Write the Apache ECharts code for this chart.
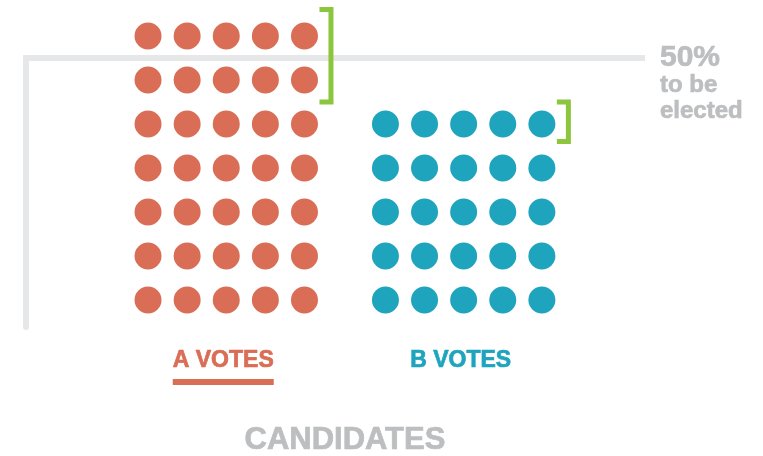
<!DOCTYPE html>
<html><head><meta charset="utf-8">
<script src="https://cdn.jsdelivr.net/npm/echarts@6/dist/echarts.min.js"></script>
<style>html,body{margin:0;padding:0;background:#fff}#c{width:763px;height:456px}</style>
</head><body><div id="c"></div>
<script>
// ---- data ----
const categories = ['A VOTES', 'B VOTES'];
const votes = [35, 25];
const dotsPerRow = 5;
// bracket extents in row units [bottom, top]
const bracketRows = [[4.5, 6.6], [3.6, 4.5]];
const thresholdShare = 0.5;
const thresholdText = ['50%', 'to be', 'elected'];
const axisTitle = 'CANDIDATES';

// ---- styling / layout ----
const colors = ['#d96d56', '#1ea5bd'];
const GREEN = '#8cc63f';
const GREY_LINE = '#e6e7e8';
const GREY_TEXT = '#bcbec0';
const FONT = '"Liberation Sans", Arial, sans-serif';
const GROUP_OFFSET = 6.07;

const total = votes.reduce((a, b) => a + b, 0);
const thresholdRow = total * thresholdShare / dotsPerRow - 0.5;

const chart = echarts.init(document.getElementById('c'), null, {renderer: 'canvas'});

const series = categories.map((name, g) => {
  const data = [];
  for (let i = 0; i < votes[g]; i++) {
    data.push([g * GROUP_OFFSET + (i % dotsPerRow), Math.floor(i / dotsPerRow)]);
  }
  const s = {
    type: 'scatter', name, data, symbol: 'circle', symbolSize: 27,
    itemStyle: {color: colors[g], opacity: 1}, clip: false, silent: true, z: 3,
    emphasis: {disabled: true}
  };
  if (g === 0) {
    s.markLine = {
      silent: true, symbol: ['none', 'none'], label: {show: false},
      lineStyle: {color: GREY_LINE, width: 6, type: 'solid', cap: 'square', opacity: 1},
      emphasis: {disabled: true},
      data: [{yAxis: thresholdRow}], animation: false, z: 1
    };
  }
  return s;
});

series.push({
  type: 'custom', clip: false, silent: true, z: 4,
  data: bracketRows.map((r, g) => [g, r[0], r[1]]),
  encode: {x: 0, y: [1, 2]},
  renderItem(params, api) {
    const g = api.value(0);
    const x = api.coord([g * GROUP_OFFSET + dotsPerRow - 1, 0])[0];
    const bot = api.coord([0, api.value(1)])[1];
    const top = api.coord([0, api.value(2)])[1];
    return {
      type: 'polyline',
      shape: {points: [[x + 15, top], [x + 26.5, top], [x + 26.5, bot], [x + 15, bot]]},
      style: {stroke: GREEN, lineWidth: 5, fill: null, lineJoin: 'miter'}
    };
  }
});

const option = {
  animation: false,
  backgroundColor: '#fff',
  grid: {left: 26, top: 58, right: 121, bottom: 129},
  xAxis: {
    type: 'value', min: -3.12, max: 12.63,
    axisLine: {show: false}, axisTick: {show: false}, axisLabel: {show: false}, splitLine: {show: false}
  },
  yAxis: {
    type: 'value', min: -0.614, max: thresholdRow,
    axisLine: {show: true, onZero: false, lineStyle: {color: GREY_LINE, width: 6}},
    axisTick: {show: false}, axisLabel: {show: false}, splitLine: {show: false}
  },
  series
};
chart.setOption(option);

// ---- text annotations placed from the axes ----
const px = (x, y) => chart.convertToPixel({gridIndex: 0}, [x, y]);
const graphics = [];
const bottomY = px(0, 0)[1];
const winner = votes.indexOf(Math.max(...votes));
const heavy = (c) => ({stroke: c, lineWidth: 0.7});
categories.forEach((name, g) => {
  const cx = px(g * GROUP_OFFSET + (dotsPerRow - 1) / 2, 0)[0] - 3;
  graphics.push({
    type: 'text', x: cx, y: bottomY + 61,
    style: Object.assign({text: name, fill: colors[g], font: 'bold 23px ' + FONT, textAlign: 'center', textVerticalAlign: 'middle'}, heavy(colors[g]))
  });
  if (g === winner) {
    graphics.push({
      type: 'rect', shape: {x: cx - 50.5, y: bottomY + 79, width: 101, height: 6},
      style: {fill: colors[g]}
    });
  }
});
const leftX = px(0, 0)[0];
const rightX = px(GROUP_OFFSET + dotsPerRow - 1, 0)[0];
graphics.push({
  type: 'text', x: (leftX + rightX) / 2, y: bottomY + 140,
  style: Object.assign({text: axisTitle, fill: GREY_TEXT, font: 'bold 31px ' + FONT, textAlign: 'center', textVerticalAlign: 'middle'}, heavy(GREY_TEXT))
});
const thrY = px(0, thresholdRow)[1];
const thrX = 660;
const sizes = [30, 24, 24];
const offs = [0, 27, 53];
thresholdText.forEach((t, i) => {
  graphics.push({
    type: 'text', x: thrX, y: thrY + offs[i],
    style: Object.assign({text: t, fill: GREY_TEXT, font: 'bold ' + sizes[i] + 'px ' + FONT, textAlign: 'left', textVerticalAlign: 'middle'}, heavy(GREY_TEXT))
  });
});
chart.setOption({graphic: {elements: graphics}});
</script>
</body></html>
